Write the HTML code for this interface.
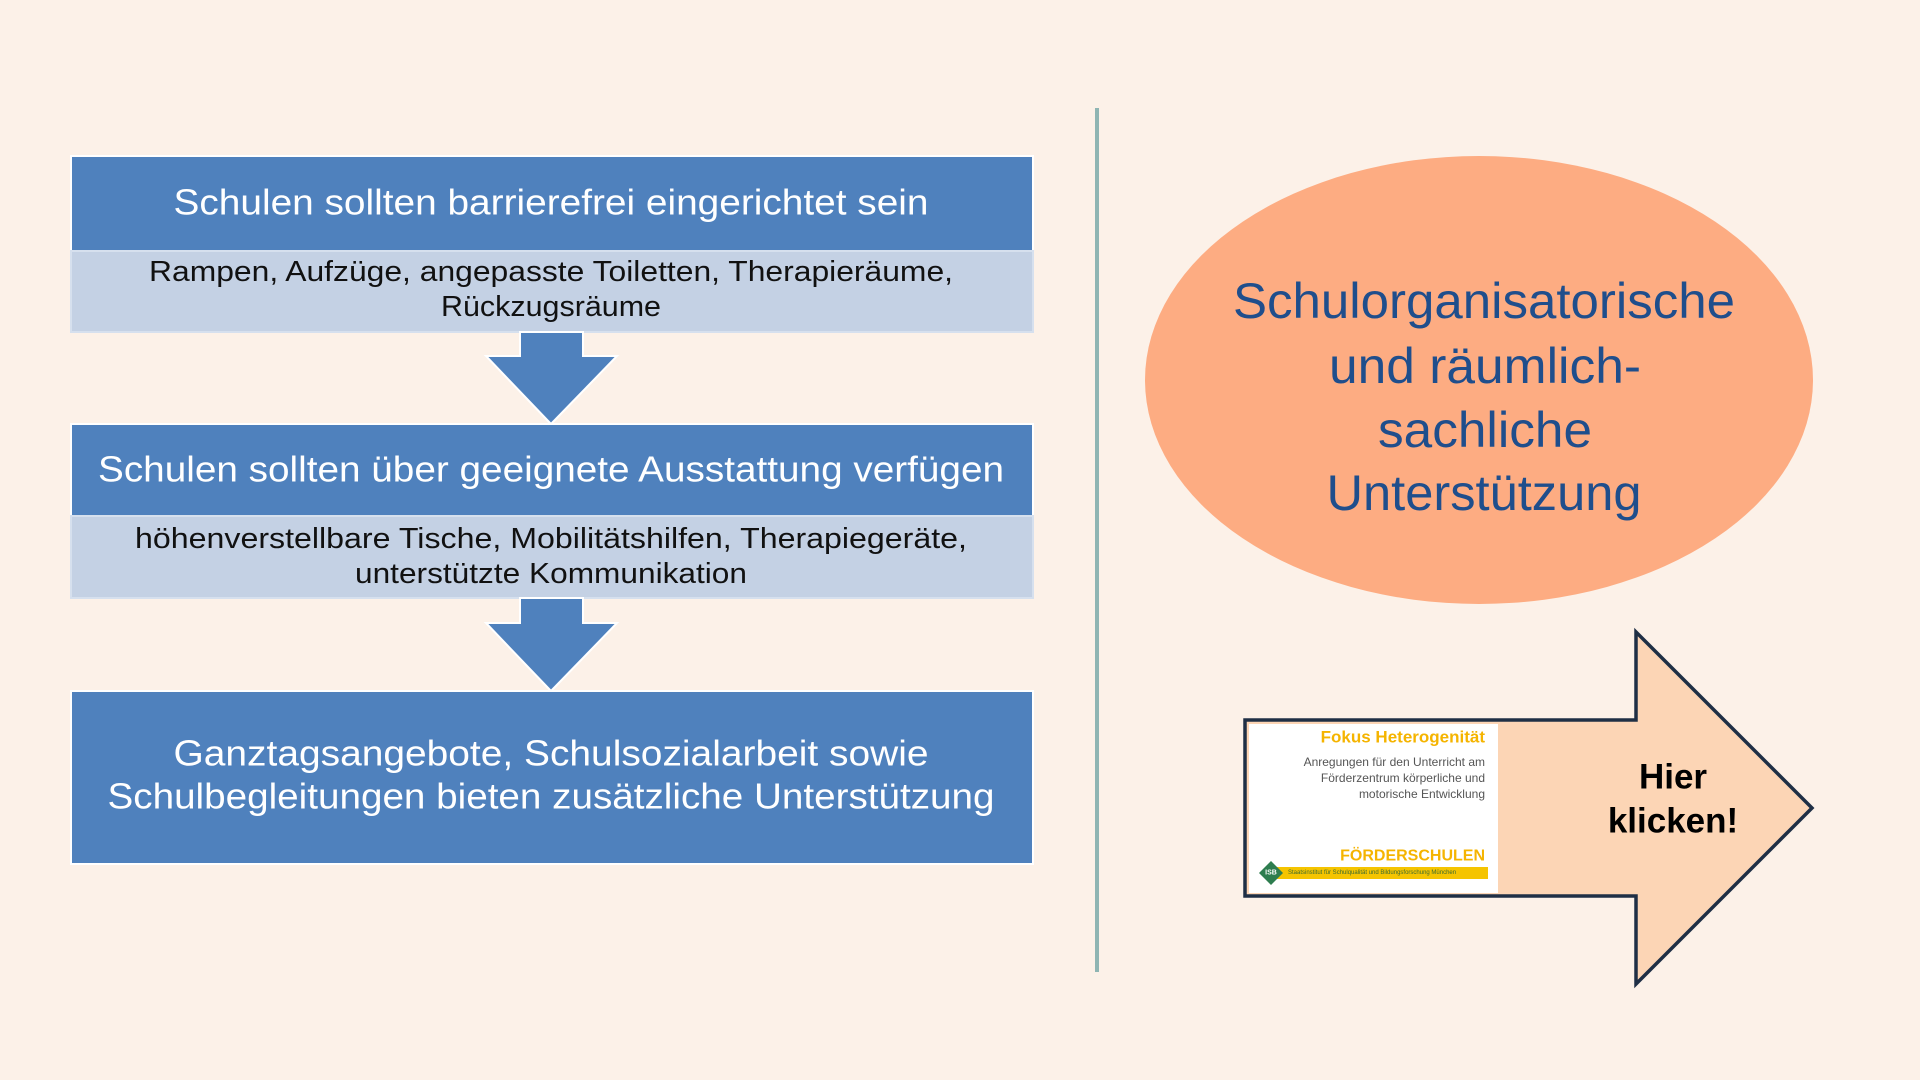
<!DOCTYPE html>
<html><head><meta charset="utf-8"><style>
html,body{margin:0;padding:0;background:#fcf1e8;}
svg{display:block;font-family:"Liberation Sans",sans-serif;}
</style></head><body>
<svg width="1920" height="1080" viewBox="0 0 1920 1080" xmlns="http://www.w3.org/2000/svg">
<rect width="1920" height="1080" fill="#fcf1e8"/>
<rect x="71" y="156" width="962" height="96" fill="#4f81bd" stroke="#fff" stroke-width="2"/>
<rect x="71" y="251" width="962" height="81" fill="#c4d1e4" stroke="#d6e0ee" stroke-width="2"/>
<polygon points="520,332 583,332 583,356 617,356 551,424 486,356 520,356" fill="#4f81bd" stroke="#fff" stroke-width="2"/>
<rect x="71" y="424" width="962" height="93" fill="#4f81bd" stroke="#fff" stroke-width="2"/>
<rect x="71" y="516" width="962" height="82" fill="#c4d1e4" stroke="#d6e0ee" stroke-width="2"/>
<polygon points="520,598 583,598 583,623 617,623 551,691 486,623 520,623" fill="#4f81bd" stroke="#fff" stroke-width="2"/>
<rect x="71" y="691" width="962" height="173" fill="#4f81bd" stroke="#fff" stroke-width="2"/>
<g font-size="36" fill="#fff" text-anchor="middle" dominant-baseline="central">
<text x="551" y="202" textLength="755" lengthAdjust="spacingAndGlyphs">Schulen sollten barrierefrei eingerichtet sein</text>
<text x="551" y="469" textLength="906" lengthAdjust="spacingAndGlyphs">Schulen sollten über geeignete Ausstattung verfügen</text>
<text x="551" y="753" textLength="755" lengthAdjust="spacingAndGlyphs">Ganztagsangebote, Schulsozialarbeit sowie</text>
<text x="551" y="796" textLength="887" lengthAdjust="spacingAndGlyphs">Schulbegleitungen bieten zusätzliche Unterstützung</text>
</g>
<g font-size="29" fill="#111" text-anchor="middle" dominant-baseline="central">
<text x="551" y="272" textLength="804" lengthAdjust="spacingAndGlyphs">Rampen, Aufzüge, angepasste Toiletten, Therapieräume,</text>
<text x="551" y="307" textLength="220" lengthAdjust="spacingAndGlyphs">Rückzugsräume</text>
<text x="551" y="539" textLength="832" lengthAdjust="spacingAndGlyphs">höhenverstellbare Tische, Mobilitätshilfen, Therapiegeräte,</text>
<text x="551" y="574" textLength="392" lengthAdjust="spacingAndGlyphs">unterstützte Kommunikation</text>
</g>
<rect x="1095" y="108" width="4" height="864" fill="#8fb5b3"/>
<ellipse cx="1479" cy="380" rx="334" ry="224" fill="#fdac82"/>
<g font-size="50" fill="#1f4e8c" text-anchor="middle" dominant-baseline="central">
<text x="1484" y="301" textLength="502" lengthAdjust="spacingAndGlyphs">Schulorganisatorische</text>
<text x="1485" y="366" textLength="312" lengthAdjust="spacingAndGlyphs">und räumlich-</text>
<text x="1485" y="430" textLength="214" lengthAdjust="spacingAndGlyphs">sachliche</text>
<text x="1484" y="493" textLength="315" lengthAdjust="spacingAndGlyphs">Unterstützung</text>
</g>
<polygon points="1245,720 1636,720 1636,632 1812,808 1636,984 1636,896 1245,896" fill="#fcd5b5" stroke="#1f2f45" stroke-width="3.5"/>
<rect x="1249" y="724" width="249" height="169" fill="#fff"/>
<text x="1485" y="737" font-size="17" font-weight="bold" fill="#f5b400" text-anchor="end" dominant-baseline="central">Fokus Heterogenität</text>
<g font-size="12" fill="#555" text-anchor="end" dominant-baseline="central">
<text x="1485" y="762">Anregungen für den Unterricht am</text>
<text x="1485" y="778">Förderzentrum körperliche und</text>
<text x="1485" y="794">motorische Entwicklung</text>
</g>
<text x="1485" y="856" font-size="16" font-weight="bold" fill="#f5b400" text-anchor="end" dominant-baseline="central">FÖRDERSCHULEN</text>
<rect x="1266" y="867" width="222" height="12" fill="#f5c400"/>
<polygon points="1259,873 1271,861 1283,873 1271,885" fill="#2e7d4f"/>
<text x="1271" y="873" font-size="7" font-weight="bold" fill="#fff" text-anchor="middle" dominant-baseline="central">ISB</text>
<text x="1288" y="873" font-size="6" fill="#3a6b30" dominant-baseline="central">Staatsinstitut für Schulqualität und Bildungsforschung München</text>
<g font-size="35" font-weight="bold" fill="#000" text-anchor="middle" dominant-baseline="central">
<text x="1673" y="777">Hier</text>
<text x="1673" y="821">klicken!</text>
</g>
</svg>
</body></html>
